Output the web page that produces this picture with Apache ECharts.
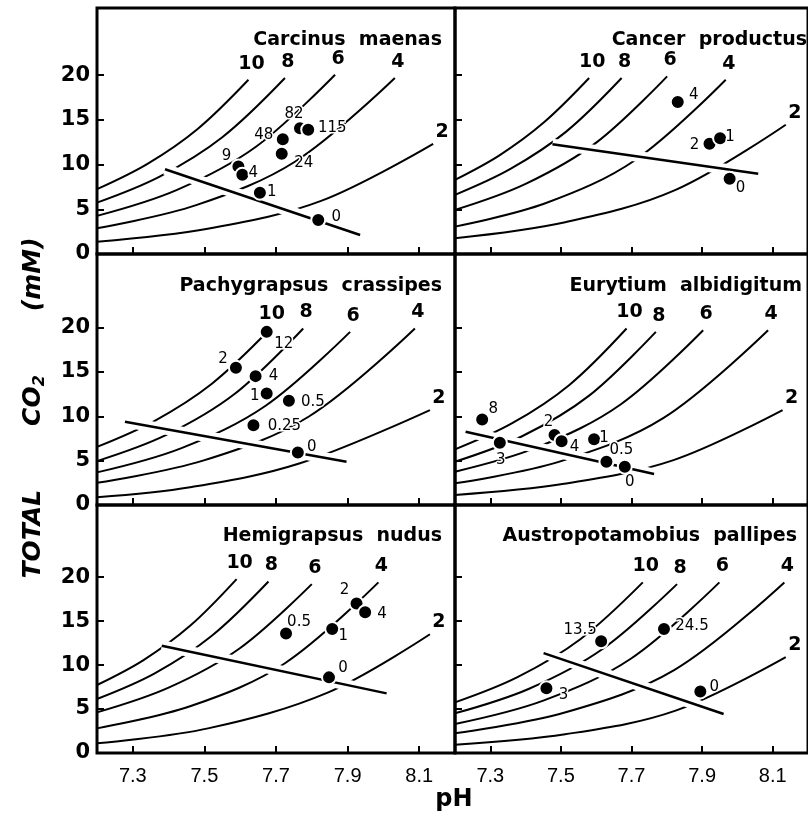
<!DOCTYPE html>
<html>
<head>
<meta charset="utf-8">
<title>Total CO2 vs pH</title>
<script src="https://cdn.jsdelivr.net/npm/echarts@6/dist/echarts.min.js"></script>
<style>html,body{margin:0;padding:0;background:#fff;}</style>
</head>
<body>
<div id="main" style="width:808px;height:838px;"></div>
<script type="text/javascript">

/* axes ===================== */
var phTicks = [7.3, 7.5, 7.7, 7.9, 8.1];
var co2Labels = [0, 5, 10, 15, 20];
var co2Ticks = [5, 10, 15, 20];
var pco2Names = ['10', '8', '6', '4', '2'];

/* Carcinus maenas ========== */
var carcinusDots = [[7.595, 9.78], [7.606, 8.85], [7.655, 6.86], [7.818, 3.81], [7.719, 12.84], [7.716, 11.2], [7.767, 14.07], [7.79, 13.89]];
var carcinusNames = ['9', '4', '1', '0', '48', '24', '82', '115'];
var carcinusBuffer = [[7.39, 9.48], [7.935, 2.13]];
var carcinusIso = [
    [[7.2, 7.25], [7.341, 10.08], [7.482, 14.01], [7.623, 19.48]],
    [[7.2, 5.74], [7.375, 8.65], [7.55, 13.05], [7.725, 19.67]],
    [[7.2, 4.26], [7.422, 7.14], [7.643, 11.96], [7.865, 20.04]],
    [[7.2, 2.88], [7.477, 5.46], [7.755, 10.37], [8.032, 19.67]],
    [[7.2, 1.38], [7.513, 2.86], [7.826, 5.94], [8.139, 12.32]]
];

/* Cancer productus ========= */
var cancerDots = [[7.831, 16.99], [7.921, 12.32], [7.951, 12.95], [7.978, 8.4]];
var cancerNames = ['4', '2', '1', '0'];
var cancerBuffer = [[7.476, 12.28], [8.059, 8.96]];
var cancerIso = [
    [[7.2, 8.29], [7.327, 11.06], [7.453, 14.75], [7.58, 19.67]],
    [[7.2, 6.61], [7.357, 9.51], [7.515, 13.68], [7.672, 19.67]],
    [[7.2, 4.93], [7.4, 7.84], [7.601, 12.48], [7.801, 19.86]],
    [[7.2, 3.06], [7.456, 5.67], [7.711, 10.51], [7.967, 19.48]],
    [[7.2, 1.76], [7.512, 3.55], [7.825, 7.16], [8.137, 14.45]]
];

/* Pachygrapsus crassipes === */
var pachyDots = [[7.674, 19.52], [7.588, 15.47], [7.643, 14.53], [7.674, 12.58], [7.736, 11.75], [7.637, 9.0], [7.761, 5.93]];
var pachyNames = ['12', '2', '4', '1', '0.5', '0.25', '0'];
var pachyBuffer = [[7.278, 9.38], [7.897, 4.88]];
var pachyIso = [
    [[7.2, 6.56], [7.36, 9.47], [7.52, 13.65], [7.68, 19.7]],
    [[7.2, 4.95], [7.392, 7.87], [7.584, 12.51], [7.776, 19.9]],
    [[7.2, 3.68], [7.436, 6.42], [7.671, 11.19], [7.907, 19.52]],
    [[7.2, 2.51], [7.496, 5.0], [7.792, 9.98], [8.088, 19.9]],
    [[7.2, 0.87], [7.46, 2.0], [7.767, 4.7], [8.13, 10.7]]
];

/* Eurytium albidigitum ===== */
var eurytiumDots = [[7.277, 9.65], [7.327, 7.02], [7.482, 7.88], [7.502, 7.2], [7.594, 7.4], [7.629, 4.88], [7.681, 4.32]];
var eurytiumNames = ['8', '3', '2', '4', '1', '0.5', '0'];
var eurytiumBuffer = [[7.23, 8.26], [7.764, 3.49]];
var eurytiumIso = [
    [[7.2, 6.27], [7.362, 9.22], [7.524, 13.54], [7.686, 19.9]],
    [[7.2, 4.88], [7.39, 7.75], [7.579, 12.3], [7.769, 19.52]],
    [[7.2, 3.75], [7.434, 6.52], [7.669, 11.33], [7.903, 19.7]],
    [[7.2, 2.44], [7.496, 4.89], [7.791, 9.82], [8.087, 19.7]],
    [[7.2, 1.13], [7.509, 2.39], [7.819, 5.06], [8.128, 10.7]]
];

/* Hemigrapsus nudus ======== */
var hemiDots = [[7.728, 13.6], [7.857, 14.1], [7.925, 17.0], [7.949, 16.0], [7.848, 8.6]];
var hemiNames = ['0.5', '1', '2', '4', '0'];
var hemiBuffer = [[7.381, 12.2], [8.009, 6.78]];
var hemiIso = [
    [[7.2, 7.73], [7.33, 10.57], [7.46, 14.46], [7.59, 19.77]],
    [[7.2, 6.14], [7.36, 9.03], [7.519, 13.27], [7.679, 19.5]],
    [[7.2, 4.62], [7.4, 7.43], [7.6, 11.94], [7.8, 19.2]],
    [[7.2, 2.8], [7.462, 5.34], [7.724, 10.18], [7.986, 19.4]],
    [[7.2, 1.1], [7.51, 2.8], [7.846, 6.9], [8.13, 13.5]]
];

/* Austropotamobius pallipes  */
var austroDots = [[7.614, 12.7], [7.792, 14.1], [7.459, 7.35], [7.895, 7.0]];
var austroNames = ['13.5', '24.5', '3', '0'];
var austroBuffer = [[7.451, 11.36], [7.961, 4.43]];
var austroIso = [
    [[7.2, 5.76], [7.377, 8.63], [7.555, 12.94], [7.732, 19.4]],
    [[7.2, 4.51], [7.41, 7.31], [7.619, 11.85], [7.829, 19.2]],
    [[7.2, 3.3], [7.45, 5.96], [7.699, 10.75], [7.949, 19.4]],
    [[7.2, 2.24], [7.511, 4.6], [7.822, 9.45], [8.133, 19.4]],
    [[7.2, 0.94], [7.512, 2.13], [7.825, 4.82], [8.137, 10.9]]
];

/* label offsets (px) =========== */
var carcinusOffsets = [[-12, -10], [11, -2], [12, -1], [18, -3], [-19, -4], [22, 9], [-6, -14], [24, -2]];
var cancerOffsets = [[16, -7], [-15, 1], [10, -1], [11, 9]];
var pachyOffsets = [[17, 12], [-13, -9], [18, 0], [-12, 3], [24, 1], [31, 1], [14, -5]];
var eurytiumOffsets = [[11, -10], [1, 17], [-6, -13], [13, 6], [10, -1], [15, -12], [5, 15]];
var hemiOffsets = [[13, -11], [11, 7], [-12, -13], [17, 2], [14, -9]];
var austroOffsets = [[-21, -11], [28, -3], [17, 7], [14, -4]];
var isoLabelOffsets = [[3, -16], [3, -16], [3, -16], [3, -16], [9, -12]];

var panels = [
    {title: 'Carcinus  maenas', dots: carcinusDots, names: carcinusNames, offsets: carcinusOffsets, buffer: carcinusBuffer, iso: carcinusIso},
    {title: 'Cancer  productus', dots: cancerDots, names: cancerNames, offsets: cancerOffsets, buffer: cancerBuffer, iso: cancerIso},
    {title: 'Pachygrapsus  crassipes', dots: pachyDots, names: pachyNames, offsets: pachyOffsets, buffer: pachyBuffer, iso: pachyIso},
    {title: 'Eurytium  albidigitum', dots: eurytiumDots, names: eurytiumNames, offsets: eurytiumOffsets, buffer: eurytiumBuffer, iso: eurytiumIso},
    {title: 'Hemigrapsus  nudus', dots: hemiDots, names: hemiNames, offsets: hemiOffsets, buffer: hemiBuffer, iso: hemiIso},
    {title: 'Austropotamobius  pallipes', dots: austroDots, names: austroNames, offsets: austroOffsets, buffer: austroBuffer, iso: austroIso}
];

/* layout ====================== */
var colLeft = [97, 455], colWidth = [358, 362];
var rowTop = [8, 254, 505], rowHeight = [246, 251, 248], rowMax = [27.5, 28.3, 28.2];
var titleTop = [31, 277, 527];

var FONT = 'DejaVu Sans';

var grids = [], xAxes = [], yAxes = [], series = [], titles = [];

panels.forEach(function (p, i) {
    var row = Math.floor(i / 2), col = i % 2;
    grids.push({
        left: colLeft[col], top: rowTop[row], width: colWidth[col], height: rowHeight[row],
        show: true, borderColor: '#000', borderWidth: 3, backgroundColor: 'transparent'
    });
    xAxes.push({
        gridIndex: i, type: 'value', min: 7.2, max: 8.2,
        splitLine: {show: false}, axisLine: {show: false},
        axisTick: {inside: true, length: 7, customValues: phTicks, lineStyle: {color: '#000', width: 2}},
        axisLabel: {
            show: row === 2, customValues: phTicks, margin: 13,
            formatter: function (v) { return v.toFixed(1); },
            color: '#000', fontSize: 20, fontFamily: "'Liberation Sans Narrow', 'Liberation Sans'"
        }
    });
    yAxes.push({
        gridIndex: i, type: 'value', min: 0, max: rowMax[row], position: 'left',
        splitLine: {show: false}, axisLine: {show: false},
        axisTick: {inside: true, length: 7, customValues: co2Ticks, lineStyle: {color: '#000', width: 2}},
        axisLabel: {
            show: col === 0, customValues: co2Labels, margin: 7,
            color: '#000', fontSize: 21, fontWeight: 'bold', fontFamily: FONT
        }
    });

    var title = {
        text: p.title, top: titleTop[row], padding: 0,
        textStyle: {fontFamily: FONT, fontSize: 19, fontWeight: 'bold', color: '#000'}
    };
    if (col === 0) title.right = 808 - 442; else title.right = [1, 6, 11][row];
    titles.push(title);

    // PCO2 isopleths
    p.iso.forEach(function (c) {
        series.push({
            type: 'line', xAxisIndex: i, yAxisIndex: i, data: c, smooth: 0.35,
            showSymbol: false, silent: true, z: 1,
            lineStyle: {color: '#000', width: 2}
        });
    });
    // buffer line, with white gap round it
    series.push({
        type: 'line', xAxisIndex: i, yAxisIndex: i, data: p.buffer,
        showSymbol: false, silent: true, z: 2,
        lineStyle: {color: '#fff', width: 11}
    });
    series.push({
        type: 'line', xAxisIndex: i, yAxisIndex: i, data: p.buffer,
        showSymbol: false, silent: true, z: 3,
        lineStyle: {color: '#000', width: 2.5}
    });
    // isopleth labels
    series.push({
        type: 'scatter', xAxisIndex: i, yAxisIndex: i, silent: true, z: 4,
        symbolSize: 1, itemStyle: {color: 'rgba(0,0,0,0)', opacity: 1},
        data: p.iso.map(function (c, k) {
            return {value: c[c.length - 1], label: {formatter: pco2Names[k], offset: isoLabelOffsets[k]}};
        }),
        label: {
            show: true, position: 'inside', color: '#000',
            fontFamily: FONT, fontSize: 19, fontWeight: 'bold',
            textBorderColor: '#fff', textBorderWidth: 3
        }
    });
    // measured points
    series.push({
        type: 'scatter', xAxisIndex: i, yAxisIndex: i, silent: true, z: 5,
        symbolSize: 14,
        itemStyle: {color: '#000', borderColor: '#fff', borderWidth: 2, opacity: 1},
        data: p.dots.map(function (d, k) {
            return {value: d, label: {formatter: p.names[k], offset: p.offsets[k]}};
        }),
        label: {
            show: true, position: 'inside', color: '#000',
            fontFamily: FONT, fontSize: 15,
            textBorderColor: '#fff', textBorderWidth: 3
        }
    });
});

var myChart = echarts.init(document.getElementById('main'));
myChart.setOption({
    animation: false,
    backgroundColor: '#fff',
    title: titles,
    grid: grids,
    xAxis: xAxes,
    yAxis: yAxes,
    series: series,
    graphic: [
        {
            type: 'text', x: 33, y: 408, rotation: Math.PI / 2,
            style: {
                text: '{a|TOTAL}{g|}{a|CO}{s|2}{g|}{a|(mM)}',
                align: 'center', verticalAlign: 'middle',
                rich: {
                    a: {fontFamily: FONT, fontSize: 25, fontWeight: 'bold', fontStyle: 'italic', fill: '#000'},
                    s: {fontFamily: FONT, fontSize: 16, fontWeight: 'bold', fontStyle: 'italic', fill: '#000', padding: [13, 0, 0, 0]},
                    g: {width: 64}
                }
            }
        },
        {
            type: 'text', x: 454, y: 800,
            style: {
                text: 'pH', align: 'center', verticalAlign: 'middle',
                fontFamily: FONT, fontSize: 24, fontWeight: 'bold', fill: '#000'
            }
        }
    ]
});

</script>
</body>
</html>
